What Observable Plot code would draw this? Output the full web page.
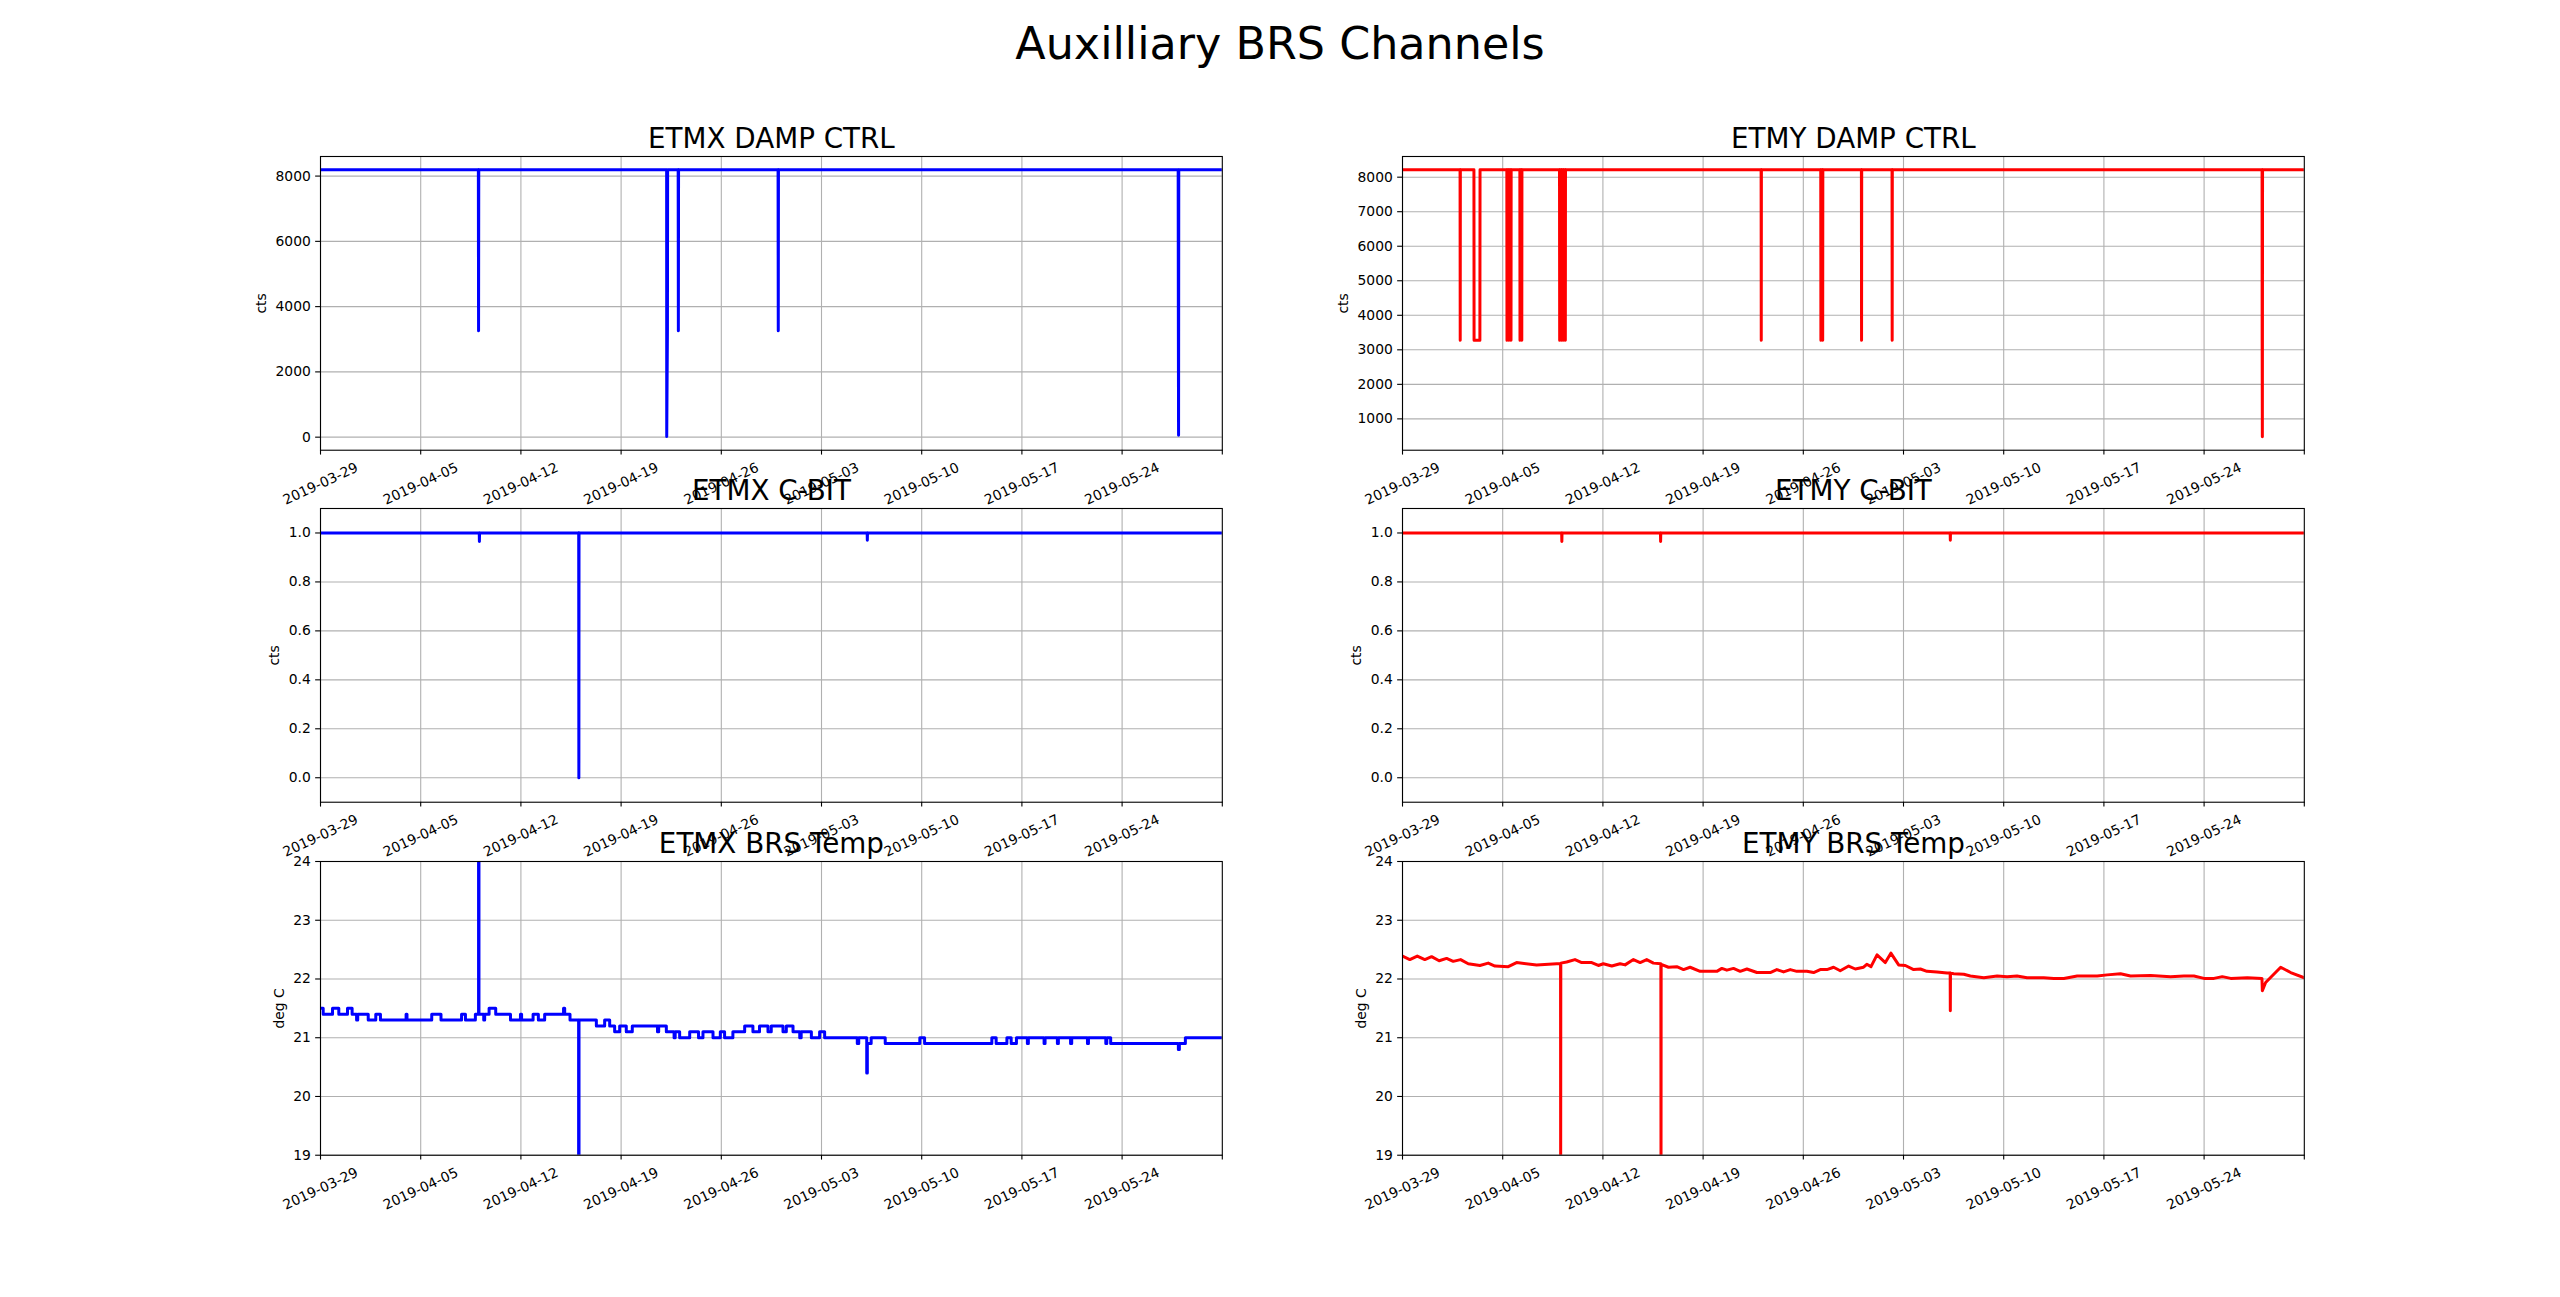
<!DOCTYPE html>
<html>
<head>
<meta charset="utf-8">
<script src="https://cdn.jsdelivr.net/npm/d3@7"></script>
<script src="https://cdn.jsdelivr.net/npm/@observablehq/plot@0.6"></script>
<style>
  body { margin: 0; background: #fff; font-family: "DejaVu Sans", sans-serif; }
  #fig { position: relative; width: 2560px; height: 1297px; overflow: hidden; background: #fff; }
  #fig > svg { position: absolute; }
</style>
</head>
<body>
<div id="fig"></div>
<script>
// ---------------- data ----------------
const figTitle = "Auxilliary BRS Channels";
const panelTitles = ["ETMX DAMP CTRL", "ETMY DAMP CTRL", "ETMX C-BIT", "ETMY C-BIT", "ETMX BRS Temp", "ETMY BRS Temp"];
const yLabels = ["cts", "cts", "cts", "cts", "deg C", "deg C"];

const xDomain = ["2019-03-29", "2019-05-31"];
const xTickLabels = ["2019-03-29", "2019-04-05", "2019-04-12", "2019-04-19", "2019-04-26", "2019-05-03", "2019-05-10", "2019-05-17", "2019-05-24"];
const xEndTick = "2019-05-31";

const etmxDampYLim = [-400, 8600];
const etmxDampYTicks = [0, 2000, 4000, 6000, 8000];
const etmyDampYLim = [92, 8599];
const etmyDampYTicks = [1000, 2000, 3000, 4000, 5000, 6000, 7000, 8000];
const cbitYLim = [-0.1, 1.1];
const cbitYTicks = [0.0, 0.2, 0.4, 0.6, 0.8, 1.0];
const tempYLim = [19, 24];
const tempYTicks = [19, 20, 21, 22, 23, 24];

// ETMX DAMP CTRL
const etmxDampTimes = ["03-29T00:00","04-09T00:40","04-09T01:00","04-09T01:20","04-22T04:20","04-22T04:30","04-22T05:40","04-22T06:00","04-22T23:40","04-23T00:00","04-23T00:20","04-29T23:10","04-29T23:30","04-29T23:50","05-27T22:00","05-27T22:20","05-27T22:40","05-27T23:00","05-31T00:00"];
const etmxDampValues = [8192,8192,3260,8192,8192,20,3270,8192,8192,3260,8192,8192,3260,8192,8192,3270,60,8192,8192];

// ETMY DAMP CTRL
const etmyDampTimes = ["03-29T00:00",
  "04-02T00:30","04-02T00:45","04-02T01:00",
  "04-02T23:45","04-03T00:00","04-03T09:45","04-03T10:00",
  "04-05T06:55","04-05T07:10","04-05T07:25","04-05T10:15","04-05T10:30","04-05T10:45","04-05T13:40","04-05T13:55","04-05T14:10",
  "04-06T04:45","04-06T05:00","04-06T05:15","04-06T07:45","04-06T08:00","04-06T08:15",
  "04-08T23:15","04-08T23:30","04-08T23:45","04-09T02:15","04-09T02:30","04-09T02:45","04-09T05:15","04-09T05:30","04-09T05:45","04-09T08:45","04-09T09:00","04-09T09:15",
  "04-23T01:15","04-23T01:30","04-23T01:45",
  "04-27T05:15","04-27T05:30","04-27T05:45","04-27T08:15","04-27T08:30","04-27T08:45",
  "04-30T01:25","04-30T01:40","04-30T01:55",
  "05-02T04:45","05-02T05:00","05-02T05:15",
  "05-28T01:10","05-28T01:20","05-28T01:40","05-28T02:00",
  "05-31T00:00"];
const etmyDampValues = [8212,
  8212,3280,8212,
  8212,3280,3280,8212,
  8212,3280,8212,8212,3280,8212,8212,3280,8212,
  8212,3280,8212,8212,3280,8212,
  8212,3280,8212,8212,3280,8212,8212,3280,8212,8212,3280,8212,
  8212,3280,8212,
  8212,3280,8212,8212,3280,8212,
  8212,3280,8212,
  8212,3280,8212,
  8212,3280,480,8212,
  8212];

// ETMX C-BIT
const etmxCbitTimes = ["03-29T00:00","04-09T02:10","04-09T02:25","04-09T02:40","04-16T00:55","04-16T01:10","04-16T01:25","05-06T04:35","05-06T04:50","05-06T05:05","05-31T00:00"];
const etmxCbitValues = [1,1,0.965,1,1,0,1,1,0.97,1,1];

// ETMY C-BIT
const etmyCbitTimes = ["03-29T00:00","04-09T02:55","04-09T03:10","04-09T03:25","04-16T00:30","04-16T00:45","04-16T01:00","05-06T06:15","05-06T06:30","05-06T06:45","05-31T00:00"];
const etmyCbitValues = [1,1,0.965,1,1,0.965,1,1,0.97,1,1];

// ETMX BRS Temp (quantised steps)
const etmxTempTimes = ["03-29T00:00","03-29T04:30","03-29T20:10","03-30T06:40","03-30T21:15","03-31T05:00","03-31T12:30","03-31T14:25",
  "04-01T08:00","04-01T20:40","04-02T04:30","04-03T23:30","04-04T01:00","04-05T18:30","04-06T10:00","04-07T20:30","04-08T03:00","04-08T19:40",
  "04-09T01:00","04-09T01:40","04-09T09:40","04-09T11:15","04-09T18:40","04-10T05:45","04-11T06:30","04-11T23:15","04-12T01:10","04-12T20:25",
  "04-13T05:15","04-13T15:50","04-14T23:30","04-15T01:25","04-15T10:20","04-16T00:45","04-16T01:25","04-17T06:30","04-17T20:25","04-18T04:50",
  "04-18T13:10","04-18T21:35","04-19T08:40","04-19T18:45","04-21T13:00","04-21T15:00","04-22T03:50","04-22T16:50","04-22T18:40","04-23T02:10",
  "04-23T19:00","04-24T09:50","04-24T17:15","04-25T10:05","04-25T22:20","04-26T05:30","04-26T19:25","04-27T15:10","04-28T05:00","04-28T16:05",
  "04-29T06:15","04-29T11:45","04-30T07:25","04-30T13:00","05-01T00:15","05-01T11:30","05-01T13:55","05-02T07:00","05-02T20:50","05-03T05:15",
  "05-05T12:00","05-05T14:25","05-06T03:50","05-06T04:50","05-06T11:15","05-07T10:50","05-09T20:50","05-10T04:50","05-14T21:35","05-15T04:50",
  "05-15T22:50","05-16T06:00","05-16T14:50","05-17T09:10","05-17T10:50","05-18T13:10","05-18T14:50","05-19T11:30","05-19T13:10","05-20T09:35",
  "05-20T11:30","05-21T13:55","05-21T15:35","05-22T20:40","05-22T22:20","05-23T04:50","05-27T22:20","05-28T00:00","05-28T10:05","05-31T00:00"];
const etmxTempValues = [21.5,21.4,21.5,21.4,21.5,21.4,21.3,21.4,
  21.3,21.4,21.3,21.4,21.3,21.4,21.3,21.4,21.3,21.4,
  24.5,21.4,21.3,21.4,21.5,21.4,21.3,21.4,21.3,21.4,
  21.3,21.4,21.5,21.4,21.3,18.5,21.3,21.2,21.3,21.2,
  21.1,21.2,21.1,21.2,21.1,21.2,21.1,21.0,21.1,21.0,
  21.1,21.0,21.1,21.0,21.1,21.0,21.1,21.2,21.1,21.2,
  21.1,21.2,21.1,21.2,21.1,21.0,21.1,21.0,21.1,21.0,
  20.9,21.0,20.4,20.9,21.0,20.9,21.0,20.9,21.0,20.9,
  21.0,20.9,21.0,20.9,21.0,20.9,21.0,20.9,21.0,20.9,
  21.0,20.9,21.0,20.9,21.0,20.9,20.8,20.9,21.0,21.0];

// ETMY BRS Temp
const etmyTempTimes = ["03-29T00:00","03-29T12:15","03-30T00:45","03-30T13:25","03-31T00:45","03-31T13:25","04-01T01:55","04-01T13:00",
  "04-02T01:25","04-02T14:10","04-03T09:50","04-03T23:45","04-04T11:00","04-05T09:20","04-05T23:15","04-07T08:50","04-08T18:30",
  "04-09T01:00","04-09T01:10","04-09T01:25","04-09T11:15","04-10T01:10","04-10T12:30","04-11T05:15","04-11T16:20","04-12T00:45",
  "04-12T14:50","04-13T04:50","04-13T13:10","04-14T03:10","04-14T14:25","04-15T01:25","04-15T12:45","04-16T01:10","04-16T01:25",
  "04-16T01:40","04-16T13:55","04-17T03:50","04-17T15:10","04-18T02:10","04-18T19:00","04-19T23:00","04-20T07:25","04-20T15:50",
  "04-21T02:55","04-21T14:10","04-22T01:25","04-22T18:15","04-23T16:35","04-24T03:35","04-24T14:55","04-25T02:10","04-25T13:10",
  "04-26T06:00","04-26T17:15","04-27T04:20","04-27T15:35","04-28T02:50","04-28T13:55","04-29T04:05","04-29T15:10","04-30T05:00",
  "04-30T10:30","04-30T17:30","05-01T03:35","05-01T17:30","05-02T02:50","05-02T15:50","05-03T03:05","05-03T17:00","05-04T04:20",
  "05-04T15:20","05-05T08:10","05-06T01:00","05-06T06:15","05-06T06:30","05-06T06:45","05-06T12:15","05-07T05:00","05-07T16:05",
  "05-08T14:40","05-09T13:00","05-10T05:45","05-10T22:20","05-11T15:10","05-12T19:10","05-13T12:00","05-14T04:50","05-15T03:10",
  "05-16T12:45","05-17T05:30","05-18T03:50","05-18T20:40","05-20T06:15","05-21T15:50","05-22T14:10","05-23T07:00","05-23T23:45",
  "05-24T16:35","05-25T06:30","05-25T20:40","05-27T00:30","05-28T01:00","05-28T01:40","05-28T07:10","05-29T08:25","05-30T01:10","05-31T00:00"];
const etmyTempValues = [22.39,22.33,22.39,22.33,22.38,22.31,22.35,22.30,
  22.33,22.26,22.23,22.27,22.22,22.21,22.28,22.24,22.26,
  22.26,18.5,22.27,22.29,22.33,22.28,22.28,22.23,22.26,
  22.22,22.26,22.24,22.33,22.28,22.33,22.27,22.26,18.5,
  22.25,22.20,22.21,22.16,22.20,22.13,22.13,22.18,22.15,
  22.18,22.13,22.17,22.11,22.11,22.16,22.12,22.16,22.13,
  22.13,22.11,22.16,22.16,22.20,22.14,22.22,22.17,22.20,
  22.25,22.21,22.41,22.28,22.44,22.24,22.23,22.16,22.17,
  22.13,22.12,22.10,22.10,21.46,22.10,22.09,22.08,22.05,
  22.02,22.05,22.04,22.05,22.02,22.02,22.01,22.01,22.05,
  22.05,22.07,22.09,22.05,22.06,22.04,22.05,22.05,22.01,
  22.01,22.04,22.01,22.02,22.01,21.80,21.94,22.20,22.11,22.02];

const blueColor = "#0000ff";
const redColor = "#ff0000";

// ---------------- helpers ----------------
const parseT = s => new Date(`2019-${s}:00Z`);
const parseD = s => new Date(`${s}T00:00:00Z`);
const series = (times, values) => times.map((t, i) => ({t: parseT(t), v: values[i]}));
const fmtDate = d3.utcFormat("%Y-%m-%d");

// matplotlib-like layout (figure 2560x1297, 3x2 subplots)
const FRAME_W = 901.82, FRAME_H = 293.73;
const colX = [320, 1402.18];
const rowY = [155.64, 508.12, 860.6];
const M = {left: 120, right: 30, top: 60, bottom: 80};
const TICK_FS = 13.89, TITLE_FS = 27.78;
const LINE_W = 3.0;

const panels = [
  {row: 0, col: 0, data: series(etmxDampTimes, etmxDampValues), color: blueColor, yLim: etmxDampYLim, yTicks: etmxDampYTicks, fmt: d3.format("d"), curve: "linear", labelDx: -58.7},
  {row: 0, col: 1, data: series(etmyDampTimes, etmyDampValues), color: redColor, yLim: etmyDampYLim, yTicks: etmyDampYTicks, fmt: d3.format("d"), curve: "linear", labelDx: -58.7},
  {row: 1, col: 0, data: series(etmxCbitTimes, etmxCbitValues), color: blueColor, yLim: cbitYLim, yTicks: cbitYTicks, fmt: d3.format(".1f"), curve: "linear", labelDx: -45.5},
  {row: 1, col: 1, data: series(etmyCbitTimes, etmyCbitValues), color: redColor, yLim: cbitYLim, yTicks: cbitYTicks, fmt: d3.format(".1f"), curve: "linear", labelDx: -45.5},
  {row: 2, col: 0, data: series(etmxTempTimes, etmxTempValues), color: blueColor, yLim: tempYLim, yTicks: tempYTicks, fmt: d3.format("d"), curve: "step-after", labelDx: -41.1},
  {row: 2, col: 1, data: series(etmyTempTimes, etmyTempValues), color: redColor, yLim: tempYLim, yTicks: tempYTicks, fmt: d3.format("d"), curve: "linear", labelDx: -41.1}
];

const fig = document.getElementById("fig");

// figure title
const ns = "http://www.w3.org/2000/svg";
const tsvg = document.createElementNS(ns, "svg");
tsvg.setAttribute("width", 2560);
tsvg.setAttribute("height", 90);
tsvg.style.left = "0px";
tsvg.style.top = "0px";
const ttext = document.createElementNS(ns, "text");
ttext.setAttribute("x", 1280);
ttext.setAttribute("y", 59);
ttext.setAttribute("text-anchor", "middle");
ttext.setAttribute("font-family", "DejaVu Sans");
ttext.setAttribute("font-size", 44.44);
ttext.setAttribute("fill", "black");
ttext.textContent = figTitle;
tsvg.appendChild(ttext);
fig.appendChild(tsvg);

const xTicks = xTickLabels.map(parseD);
const xAllTicks = [...xTicks, parseD(xEndTick)];

panels.forEach((p, i) => {
  const gridStyle = {stroke: "#b0b0b0", strokeOpacity: 1, strokeWidth: 1.1};
  const svg = Plot.plot({
    width: M.left + FRAME_W + M.right,
    height: M.top + FRAME_H + M.bottom,
    marginLeft: M.left, marginRight: M.right, marginTop: M.top, marginBottom: M.bottom,
    style: {background: "transparent", overflow: "visible", fontFamily: "DejaVu Sans", fontSize: TICK_FS + "px", color: "black"},
    x: {type: "utc", domain: xDomain.map(parseD), label: null},
    y: {domain: p.yLim, label: null},
    marks: [
      Plot.gridX(xTicks, gridStyle),
      Plot.gridY(p.yTicks, gridStyle),
      Plot.line(p.data, {x: "t", y: "v", stroke: p.color, strokeWidth: LINE_W, curve: p.curve, clip: true}),
      Plot.frame({stroke: "black", strokeWidth: 1.1}),
      Plot.axisY(p.yTicks, {tickFormat: p.fmt, tickSize: 4.86, tickPadding: 4.86, fontSize: TICK_FS, label: null, strokeWidth: 1.1}),
      Plot.axisX(xAllTicks, {
        tickFormat: d => (+d === +parseD(xEndTick) ? "" : fmtDate(d)),
        tickRotate: -25, textAnchor: "middle", lineAnchor: "middle",
        tickSize: 4.86, tickPadding: 28.8, fontSize: TICK_FS, label: null, strokeWidth: 1.1
      }),
      Plot.text([yLabels[i]], {text: d => d, frameAnchor: "left", dx: p.labelDx, rotate: -90, textAnchor: "middle", lineAnchor: "middle", fontSize: TICK_FS, fill: "black"}),
      Plot.text([panelTitles[i]], {text: d => d, frameAnchor: "top", dy: -8.33, textAnchor: "middle", lineAnchor: "bottom", fontSize: TITLE_FS, fill: "black"})
    ]
  });
  svg.style.position = "absolute";
  svg.style.left = (colX[p.col] - M.left) + "px";
  svg.style.top = (rowY[p.row] - M.top) + "px";
  svg.style.maxWidth = "none";
  fig.appendChild(svg);
});
</script>
</body>
</html>
